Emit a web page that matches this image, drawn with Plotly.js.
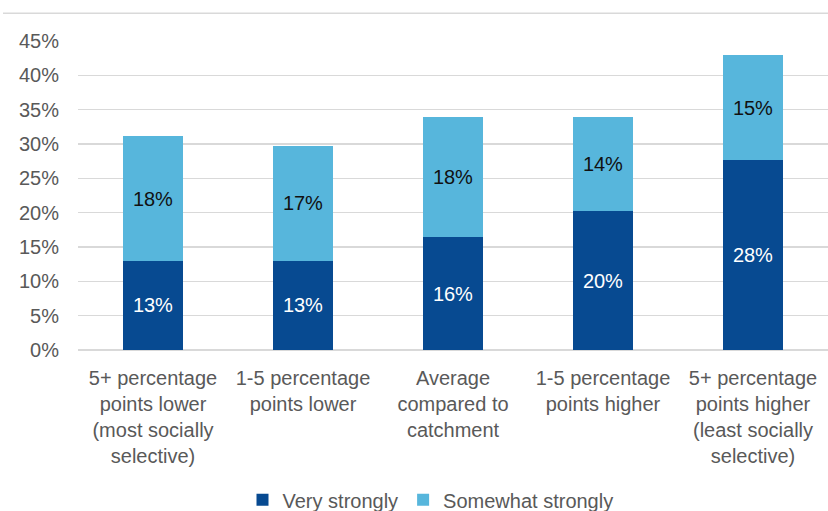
<!DOCTYPE html>
<html>
<head>
<meta charset="utf-8">
<script src="https://cdn.plot.ly/plotly-3.0.1.min.js"></script>
<style>html,body{margin:0;padding:0;background:#fff;}#chart{width:828px;height:511px;}</style>
</head>
<body>
<div id="chart"></div>
<script>
const categories = [
  "5+ percentage<br>points lower<br>(most socially<br>selective)",
  "1-5 percentage<br>points lower",
  "Average<br>compared to<br>catchment",
  "1-5 percentage<br>points higher",
  "5+ percentage<br>points higher<br>(least socially<br>selective)"
];
const veryStrongly = [13.0, 13.0, 16.4, 20.2, 27.6];
const somewhatStrongly = [18.1, 16.7, 17.6, 13.8, 15.4];
const yTickVals = [0, 5, 10, 15, 20, 25, 30, 35, 40, 45];
const yTickText = ["0%", "5%", "10%", "15%", "20%", "25%", "30%", "35%", "40%", "45%"];

const FONT = "'Liberation Sans', Arial, sans-serif";

const traces = [
  {
    type: 'bar', name: 'Very strongly', x: categories, y: veryStrongly,
    marker: {color: '#074a91'},
    texttemplate: '%{y:.0f}%', textposition: 'inside', insidetextanchor: 'middle',
    textfont: {color: '#ffffff', size: 20, family: FONT},
    hoverinfo: 'skip'
  },
  {
    type: 'bar', name: 'Somewhat strongly', x: categories, y: somewhatStrongly,
    marker: {color: '#57b6dc'},
    texttemplate: '%{y:.0f}%', textposition: 'inside', insidetextanchor: 'middle',
    textfont: {color: '#111111', size: 20, family: FONT},
    hoverinfo: 'skip'
  }
];

const layout = {
  width: 828, height: 511,
  margin: {l: 78, r: 0, t: 41, b: 161, pad: 0, autoexpand: false},
  barmode: 'stack', bargap: 0.594,
  paper_bgcolor: '#ffffff', plot_bgcolor: '#ffffff',
  font: {family: FONT, size: 20, color: '#595959'},
  showlegend: true,
  legend: {orientation: 'h', x: 0.47, xanchor: 'center', y: -0.485, yanchor: 'middle',
           font: {size: 20, color: '#595959'}, traceorder: 'normal', itemwidth: 30},
  xaxis: {type: 'category', tickfont: {size: 20, color: '#595959'}, showline: false,
          showgrid: false, zeroline: false, ticks: '', ticklabelstandoff: 14, automargin: false},
  yaxis: {range: [0, 45], tickvals: yTickVals, ticktext: yTickText,
          tickfont: {size: 20, color: '#595959'}, showgrid: true, gridcolor: '#d9d9d9', gridwidth: 1.5,
          zeroline: true, zerolinecolor: '#d9d9d9', zerolinewidth: 1.5, ticks: '', ticklabelstandoff: 18,
          automargin: false, fixedrange: true},
  shapes: [
    {type: 'line', xref: 'paper', yref: 'paper', x0: -0.1, x1: 1, y0: 1.09, y1: 1.09,
     line: {color: '#d9d9d9', width: 1.5}}
  ]
};

Plotly.newPlot('chart', traces, layout, {displayModeBar: false, staticPlot: true});
</script>
</body>
</html>
